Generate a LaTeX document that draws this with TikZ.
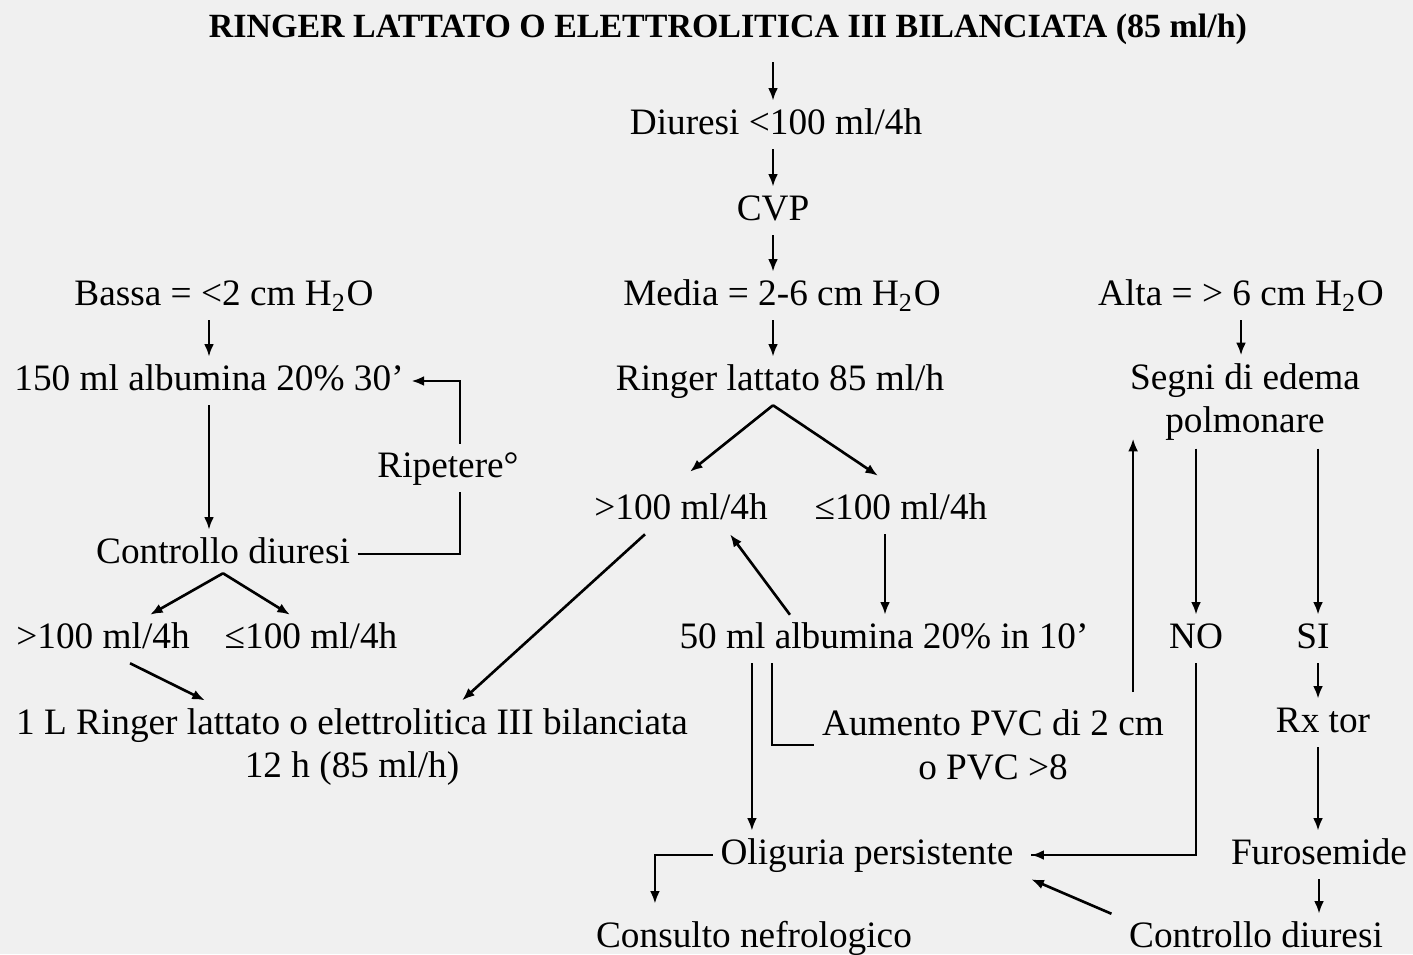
\documentclass[tikz,border=0pt]{standalone}
\usepackage{fontspec}
\setmainfont{Liberation Serif}
\usetikzlibrary{arrows.meta}
\begin{document}
\begin{tikzpicture}[x=0.01cm,y=-0.01cm,
        txt/.style={inner sep=2pt,yshift=-0.03cm,text height=7.4pt,text depth=2pt,font=\fontsize{10.6}{12.5}\selectfont},
        txt2/.style={inner sep=2pt,yshift=-0.03cm,align=center,font=\fontsize{10.6}{12.5}\selectfont},
        arr/.style={line width=0.75pt,-{Latex[length=3.6pt,width=2.8pt]}},
        ln/.style={line width=0.75pt}]
    \fill[black!6] (0,0) rectangle (1413,954);
    \useasboundingbox (0,0) rectangle (1413,954);
    % centre column
    \node[txt,font=\bfseries\fontsize{9.65}{12}\selectfont] (title) at (728,25) {RINGER LATTATO O ELETTROLITICA III BILANCIATA (85 ml/h)};
    \node[txt] (diuresi) at (776,122) {Diuresi <100 ml/4h};
    \node[txt] (cvp) at (773,208) {CVP};
    \node[txt] (media) at (782,293) {Media = 2-6 cm H\textsubscript{2}O};
    \node[txt] (ringer) at (780,378) {Ringer lattato 85 ml/h};
    \node[txt] (gtC) at (681,507) {>100 ml/4h};
    \node[txt] (leC) at (901,507) {≤100 ml/4h};
    \node[txt] (alb50) at (884,636) {50 ml albumina 20\% in 10'};
    \node[txt2] (aumento) at (993,742) {Aumento PVC di 2 cm\\o PVC >8};
    \node[txt] (oligo) at (867,852) {Oliguria persistente};
    \node[txt] (consulto) at (754,935) {Consulto nefrologico};
    % left column
    \node[txt] (bassa) at (224,293) {Bassa = <2 cm H\textsubscript{2}O};
    \node[txt] (alb150) at (209,378) {150 ml albumina 20\% 30'};
    \node[txt] (ripetere) at (448,465) {Ripetere°};
    \node[txt] (ctrlL) at (223,551) {Controllo diuresi};
    \node[txt] (gtL) at (103,636) {>100 ml/4h};
    \node[txt] (leL) at (311,636) {≤100 ml/4h};
    \node[txt2] (ringerL) at (352,744) {1 L Ringer lattato o elettrolitica III bilanciata\\12 h (85 ml/h)};
    % right column
    \node[txt] (alta) at (1241,293) {Alta = > 6 cm H\textsubscript{2}O};
    \node[txt2] (segni) at (1245,399) {Segni di edema\\polmonare};
    \node[txt] (no) at (1196,636) {NO};
    \node[txt] (si) at (1313,636) {SI};
    \node[txt] (rx) at (1323,720) {Rx tor};
    \node[txt] (furo) at (1319,852) {Furosemide};
    \node[txt] (ctrlR) at (1256,935) {Controllo diuresi};

    % centre arrows
    \draw[arr] ([yshift=-0.1cm]title.south -| cvp.north) -- (cvp.north |- diuresi.north);
    \draw[arr] (cvp.north |- diuresi.south) -- (cvp.north);
    \draw[arr] (cvp.south) -- (cvp.south |- media.north);
    \draw[arr] (cvp.south |- media.south) -- (cvp.south |- ringer.north);
    \draw[arr] ([xshift=-0.07cm]ringer.south) -- ([xshift=0.09cm,yshift=0.14cm]gtC.north);
    \draw[arr] ([xshift=-0.07cm]ringer.south) -- ([xshift=-0.23cm,yshift=0.1cm]leC.north);
    \draw[arr] ([xshift=-0.16cm]leC.south) -- ([xshift=-0.16cm]leC.south |- alb50.north);
    \draw[arr] ([xshift=-0.94cm]alb50.north) -- ([xshift=0.49cm]gtC.south);
    \draw[arr] ([xshift=-0.36cm]gtC.south) -- ([xshift=1.1cm]ringerL.north);
    \draw[arr] ([xshift=-1.32cm]alb50.south) -- ([xshift=-1.32cm]alb50.south |- oligo.north);
    \draw[ln] ([xshift=-1.12cm]alb50.south) |- (aumento.west);
    \draw[arr] ([xshift=1.4cm,yshift=0.1cm]aumento.north) -- ([xshift=1.4cm,yshift=0.1cm]aumento.north |- segni.south);
    \draw[arr] (oligo.west) -| ([xshift=-0.99cm,yshift=0.1cm]consulto.north);
    % left arrows
    \draw[arr] (bassa.south -| alb150.north) -- (alb150.north);
    \draw[arr] (alb150.south) -- (alb150.south |- ctrlL.north);
    \draw[ln] (ctrlL.east) -| ([xshift=0.12cm]ripetere.south);
    \draw[arr] ([xshift=0.12cm]ripetere.north) |- (alb150.east);
    \draw[arr] ([yshift=0.05cm]ctrlL.south) -- ([xshift=0.47cm]gtL.north);
    \draw[arr] ([yshift=0.05cm]ctrlL.south) -- ([xshift=-0.21cm]leL.north);
    \draw[arr] ([xshift=0.27cm]gtL.south) -- ([xshift=-1.47cm]ringerL.north);
    % right arrows
    \draw[arr] (alta.south) -- (alta.south |- segni.north);
    \draw[arr] (segni.south -| no.north) -- (no.north);
    \draw[arr] ([xshift=0.05cm]segni.south -| si.north) -- ([xshift=0.05cm]si.north);
    \draw[ln] (no.south) |- ([xshift=0.1cm]oligo.east);
    \draw[arr] (no.south |- oligo.east) -- ([xshift=0.1cm]oligo.east);
    \draw[arr] ([xshift=0.05cm]si.south) -- ([xshift=0.05cm]si.south |- rx.north);
    \draw[arr] ([xshift=-0.05cm]rx.south) -- ([xshift=-0.05cm]rx.south |- furo.north);
    \draw[arr] (furo.south) -- (furo.south |- ctrlR.north);
    \draw[arr] ([xshift=-0.1cm]ctrlR.north west) -- ([xshift=0.1cm]oligo.south east);
\end{tikzpicture}
\end{document}
